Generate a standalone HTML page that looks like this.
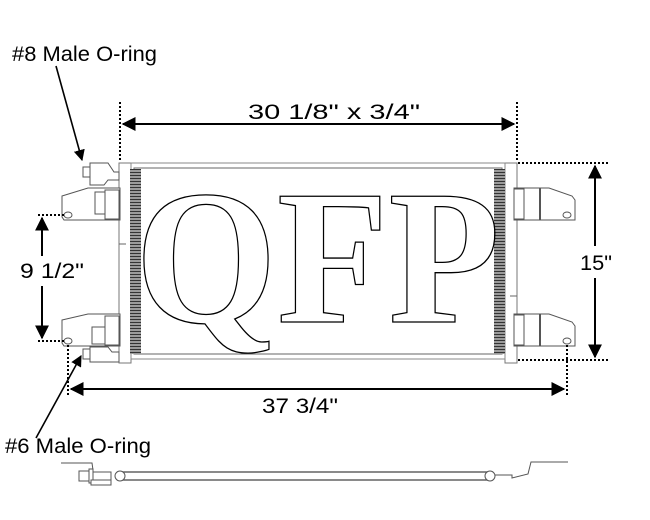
<!DOCTYPE html>
<html><head><meta charset="utf-8"><style>
html,body{margin:0;padding:0;background:#fff;}
svg{display:block;}
text{font-family:"Liberation Sans",sans-serif;}
</style></head><body>
<svg width="650" height="520" viewBox="0 0 650 520" xmlns="http://www.w3.org/2000/svg">
<defs>
<marker id="ah" viewBox="0 0 10 10" refX="9" refY="5" markerWidth="7" markerHeight="7" orient="auto-start-reverse"><path d="M0,0 L10,5 L0,10 z" fill="#000"/></marker>
<pattern id="fin" width="11" height="3" patternUnits="userSpaceOnUse"><rect width="11" height="3" fill="#9a9a9a"/><path d="M0,1.5 H11" stroke="#333" stroke-width="1"/></pattern>
</defs>

<rect x="119" y="163" width="12" height="200" fill="#fff" stroke="#777" stroke-width="1"/>
<rect x="505" y="163" width="12" height="200" fill="#fff" stroke="#777" stroke-width="1"/>
<rect x="131" y="163" width="374" height="196" fill="#fff" stroke="#888" stroke-width="1"/>
<rect x="134" y="168" width="368" height="186" fill="none" stroke="#666" stroke-width="1"/>
<rect x="130" y="169" width="11" height="185" fill="url(#fin)"/>
<rect x="494" y="169" width="11" height="185" fill="url(#fin)"/>
<line x1="119" y1="244" x2="126" y2="244" stroke="#666"/>
<line x1="510" y1="296" x2="517" y2="296" stroke="#666"/>

<text x="135" y="322" textLength="365" lengthAdjust="spacingAndGlyphs" style="font-family:'Liberation Serif',serif;font-size:192px;font-weight:bold" fill="none" stroke="#000" stroke-width="1.3">QFP</text>

<g fill="#fff" stroke="#555" stroke-width="1">
<path d="M62,196 L88,188 L120,188 L120,220 L64,220 L62,217 Z"/>
<rect x="105" y="190" width="14" height="29"/>
<rect x="95" y="192" width="10" height="22"/>
<path d="M90,163 L108,163 L114,172 L119,172 L119,180 L108,180 L104,185 L90,185 Z"/>
<rect x="83" y="167" width="7" height="10"/>
<path d="M62,320 L88,314 L120,314 L120,346 L64,346 L62,343 Z"/>
<rect x="105" y="316" width="14" height="29"/>
<rect x="92" y="327" width="13" height="17"/>
<path d="M90,347 L108,347 L112,352 L119,352 L119,362 L90,362 Z"/>
<rect x="83" y="349" width="7" height="10"/>
<ellipse cx="68" cy="215" rx="4" ry="3"/>
<ellipse cx="68" cy="341" rx="4" ry="3"/>
<path d="M514,188 L549,188 L572,196 L575,200 L575,220 L514,220 Z"/>
<rect x="514" y="189" width="10" height="30"/>
<line x1="540" y1="188" x2="540" y2="220" stroke-width="2"/>
<ellipse cx="567" cy="215" rx="4" ry="3"/>
<path d="M514,314 L549,314 L572,322 L575,326 L575,346 L514,346 Z"/>
<rect x="514" y="315" width="10" height="30"/>
<line x1="540" y1="314" x2="540" y2="346" stroke-width="2"/>
<ellipse cx="567" cy="341" rx="4" ry="3"/>
</g>

<g stroke="#000" stroke-width="2" stroke-dasharray="2,2" fill="none">
<line x1="120" y1="102" x2="120" y2="162"/>
<line x1="517" y1="102" x2="517" y2="162"/>
<line x1="518" y1="163" x2="608" y2="163"/>
<line x1="518" y1="360" x2="608" y2="360"/>
<line x1="38" y1="215" x2="64" y2="215"/>
<line x1="38" y1="341" x2="64" y2="341"/>
<line x1="68" y1="345" x2="68" y2="397"/>
<line x1="567" y1="345" x2="567" y2="397"/>
</g>

<g stroke="#000" stroke-width="2">
<line x1="123" y1="124" x2="514" y2="124" marker-start="url(#ah)" marker-end="url(#ah)"/>
<line x1="595" y1="166" x2="595" y2="357" marker-start="url(#ah)" marker-end="url(#ah)"/>
<line x1="42" y1="218" x2="42" y2="338" marker-start="url(#ah)" marker-end="url(#ah)"/>
<line x1="71" y1="389" x2="564" y2="389" marker-start="url(#ah)" marker-end="url(#ah)"/>
<line x1="56" y1="66" x2="82" y2="160" stroke-width="1.6" marker-end="url(#ah)"/>
<line x1="36" y1="438" x2="81" y2="356" stroke-width="1.6" marker-end="url(#ah)"/>
</g>
<rect x="578" y="246" width="36" height="32" fill="#fff"/>
<rect x="18" y="256" width="68" height="30" fill="#fff"/>

<g font-size="21" fill="#000">
<text x="248" y="119" textLength="172" lengthAdjust="spacingAndGlyphs">30 1/8" x 3/4"</text>
<text x="580" y="270" textLength="32" lengthAdjust="spacingAndGlyphs">15"</text>
<text x="20" y="278" textLength="64" lengthAdjust="spacingAndGlyphs">9 1/2"</text>
<text x="262" y="413" textLength="76" lengthAdjust="spacingAndGlyphs">37 3/4"</text>
<text x="12" y="61" textLength="145" lengthAdjust="spacingAndGlyphs">#8 Male O-ring</text>
<text x="5" y="453" textLength="146" lengthAdjust="spacingAndGlyphs">#6 Male O-ring</text>
</g>

<g fill="#fff" stroke="#555" stroke-width="1">
<polyline points="61,463 92,463 93,470" fill="none"/>
<rect x="79" y="471" width="10" height="10"/>
<rect x="89" y="469" width="4" height="14"/>
<rect x="93" y="472" width="18" height="8"/>
<rect x="91" y="480" width="20" height="5"/>
<line x1="119" y1="472" x2="490" y2="472" stroke="#444" stroke-width="1.3"/>
<line x1="119" y1="480" x2="490" y2="480" stroke="#444" stroke-width="1.3"/>
<circle cx="120" cy="476" r="5"/>
<circle cx="490" cy="476" r="5"/>
<polyline points="495,475 512,475 512,478 528,474 531,462 549,462 568,462" fill="none"/>
</g>
</svg>
</body></html>
